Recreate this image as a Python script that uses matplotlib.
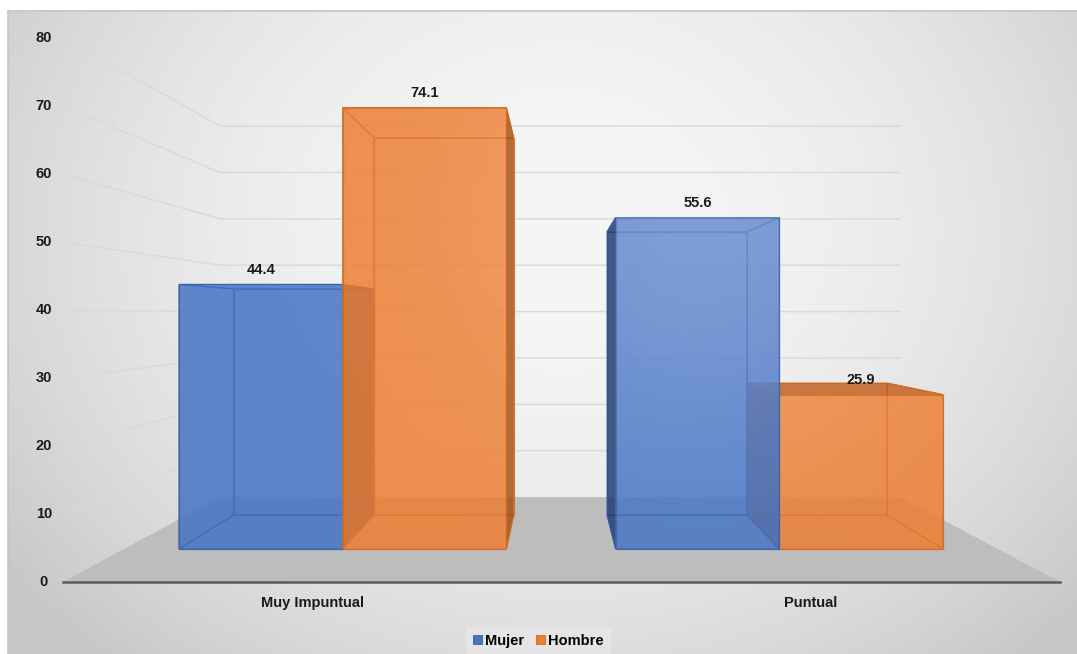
import numpy as np
import matplotlib
matplotlib.use("Agg")
import matplotlib.pyplot as plt
from matplotlib.patches import Polygon, Patch
from matplotlib.colors import to_rgb

# ---- data ----
categories = ["Muy Impuntual", "Puntual"]
series_names = ["Mujer", "Hombre"]
mujer = [44.4, 55.6]
hombre = [74.1, 25.9]
y_ticks = [0, 10, 20, 30, 40, 50, 60, 70, 80]

series_values = [mujer, hombre]
series_colors = ["#4472C4", "#ED7D31"]
side_colors = ["#13284E", "#8A4208"]
top_colors = ["#2F5597", "#B5561A"]
edge_colors = ["#3A62A8", "#D06A22"]

plt.rcParams["font.family"] = ["Liberation Sans", "DejaVu Sans"]

W, H = 1077, 654
fig = plt.figure(figsize=(W / 100, H / 100), dpi=100)
fig.patch.set_facecolor("white")
ax = fig.add_axes([0, 0, 1, 1])
ax.set_xlim(0, W)
ax.set_ylim(H, 0)
ax.axis("off")

# ---- chart area background (radial gradient) ----
left, top = 8, 11
yy, xx = np.mgrid[top:H + 1, left:W + 1].astype(float)
r2 = ((xx - 560) / 620) ** 2 + ((yy - 230) / 520) ** 2
g = np.clip(246 - 38 * r2, 200, 246) / 255.0
bg = np.dstack([g, g, g])
ax.imshow(bg, extent=[left, W + 1, H + 1, top], zorder=0, interpolation="bilinear")
ax.plot([left, W + 1], [top, top], color="#c4c4c4", lw=1.2, zorder=1)
ax.plot([left, left], [top, H + 1], color="#c4c4c4", lw=1.2, zorder=1)

# ---- perspective scene ----
FRONT_X0, CAT_W = 63.0, 498.5       # front plane: category axis
BASE_Y, UNIT = 582.0, 6.8           # front plane: value axis
VP = (557.0, 315.0)                 # vanishing point
K = 1 / 0.682 - 1                   # depth shrink factor (back wall at z=1)


def proj(xc, v, z):
    s = 1.0 / (1.0 + K * z)
    fx = FRONT_X0 + xc * CAT_W
    fy = BASE_Y - v * UNIT
    return VP[0] + s * (fx - VP[0]), VP[1] + s * (fy - VP[1])


n_cat = len(categories)

# gridlines on left and back walls
for v in y_ticks[1:]:
    p0 = proj(0, v, 0)
    p1 = proj(0, v, 1)
    p2 = proj(n_cat, v, 1)
    ax.plot([p0[0], p1[0], p2[0]], [p0[1], p1[1], p2[1]],
            color="#d9d9d9", lw=1.0, zorder=2, solid_joinstyle="miter")

# floor
floor = [proj(0, 0, 0), proj(n_cat, 0, 0), proj(n_cat, 0, 1), proj(0, 0, 1)]
ax.add_patch(Polygon(floor, closed=True, facecolor="#bdbdbd", edgecolor="none", zorder=3))
a0, a1 = proj(0, 0, 0), proj(n_cat, 0, 0)
ax.plot([a0[0], a1[0]], [a0[1], a1[1]], color="#5c5c5c", lw=1.8, zorder=4)

FS = 10.5
# y tick labels on the front plane
for v in y_ticks:
    ax.text(44, BASE_Y - v * UNIT, f"{v}", ha="center", va="center",
            fontsize=FS, fontweight="bold", color="#1a1a1a", zorder=10)

# category labels
for i, cat in enumerate(categories):
    cx, _ = proj(i + 0.5, 0, 0)
    ax.text(cx, BASE_Y + 21, cat, ha="center", va="center",
            fontsize=FS, fontweight="bold", color="#1a1a1a", zorder=10)

# ---- 3D bars ----
BAR_W = 0.375
Z0, Z1 = 0.304, 0.719
ALPHA = 0.6

# soft highlight from the light source (white overlay, applied to front faces)
hy, hx = np.mgrid[0:H, 0:W].astype(float)
hl = 0.2 * np.exp(-(((hx - 700) ** 2 + (hy - 215) ** 2) / (2 * 150.0 ** 2)))
highlight = np.dstack([np.ones_like(hl)] * 3 + [hl])


def rgba(c, a):
    r, g_, b = to_rgb(c)
    return (r, g_, b, a)


bars = []
for si, vals in enumerate(series_values):
    for ci, v in enumerate(vals):
        x0 = ci + 0.5 - BAR_W + si * BAR_W
        x1 = x0 + BAR_W
        cx_screen = proj((x0 + x1) / 2, 0, 0)[0]
        bars.append((abs(cx_screen - VP[0]), si, ci, x0, x1, v))

# farther from the line of sight first
bars.sort(key=lambda b: -b[0])

for _, si, ci, x0, x1, v in bars:
    base = series_colors[si]
    edge = rgba(edge_colors[si], 0.85)

    def quad(pts):
        return [proj(*p) for p in pts]

    back = quad([(x0, 0, Z1), (x1, 0, Z1), (x1, v, Z1), (x0, v, Z1)])
    front = quad([(x0, 0, Z0), (x1, 0, Z0), (x1, v, Z0), (x0, v, Z0)])
    lface = quad([(x0, 0, Z0), (x0, 0, Z1), (x0, v, Z1), (x0, v, Z0)])
    rface = quad([(x1, 0, Z0), (x1, 0, Z1), (x1, v, Z1), (x1, v, Z0)])
    bottom = quad([(x0, 0, Z0), (x1, 0, Z0), (x1, 0, Z1), (x0, 0, Z1)])
    topf = quad([(x0, v, Z0), (x1, v, Z0), (x1, v, Z1), (x0, v, Z1)])

    left_vis = proj(x0, 0, 0)[0] > VP[0]
    right_vis = proj(x1, 0, 0)[0] < VP[0]
    top_vis = proj(x0, v, 0)[1] > VP[1]

    hidden = [back, bottom]
    visible = []
    for vis, face, kind in ((left_vis, lface, "side"), (right_vis, rface, "side"),
                            (top_vis, topf, "top")):
        if vis:
            visible.append((kind, face))
        else:
            hidden.append(face)

    z = 5
    for poly in hidden:
        ax.add_patch(Polygon(poly, closed=True, facecolor=rgba(base, ALPHA),
                             edgecolor=edge, lw=0.8, zorder=z))
    for kind, poly in visible:
        col = side_colors[si] if kind == "side" else top_colors[si]
        ax.add_patch(Polygon(poly, closed=True, facecolor=rgba(col, ALPHA),
                             edgecolor=edge, lw=0.8, zorder=z))
    front_patch = Polygon(front, closed=True, facecolor=rgba(base, ALPHA),
                          edgecolor=edge, lw=0.9, zorder=z)
    ax.add_patch(front_patch)
    im = ax.imshow(highlight, extent=[0, W, H, 0], zorder=z, interpolation="bilinear")
    im.set_clip_path(front_patch)

    # value label above the front face
    lx, ly = proj((x0 + x1) / 2, v, Z0)
    ax.text(lx, ly - 14.5, f"{v:.1f}", ha="center", va="center",
            fontsize=FS, fontweight="bold", color="#1a1a1a", zorder=10)

ax.set_xlim(0, W)
ax.set_ylim(H, 0)

# ---- legend ----
handles = [Patch(facecolor=c, edgecolor=e, lw=0.6, label=n)
           for c, e, n in zip(series_colors, edge_colors, series_names)]
leg = fig.legend(handles=handles, loc="lower center", bbox_to_anchor=(0.5, -0.012),
                 ncol=2, frameon=True, fancybox=False, handlelength=0.6,
                 handleheight=0.6, handletextpad=0.25, columnspacing=0.8,
                 borderpad=0.45, prop={"weight": "bold", "size": FS})
leg.get_frame().set_facecolor("#e6e6e6")
leg.get_frame().set_edgecolor("none")
leg.get_frame().set_alpha(0.9)

fig.savefig("out.png", dpi=100)
